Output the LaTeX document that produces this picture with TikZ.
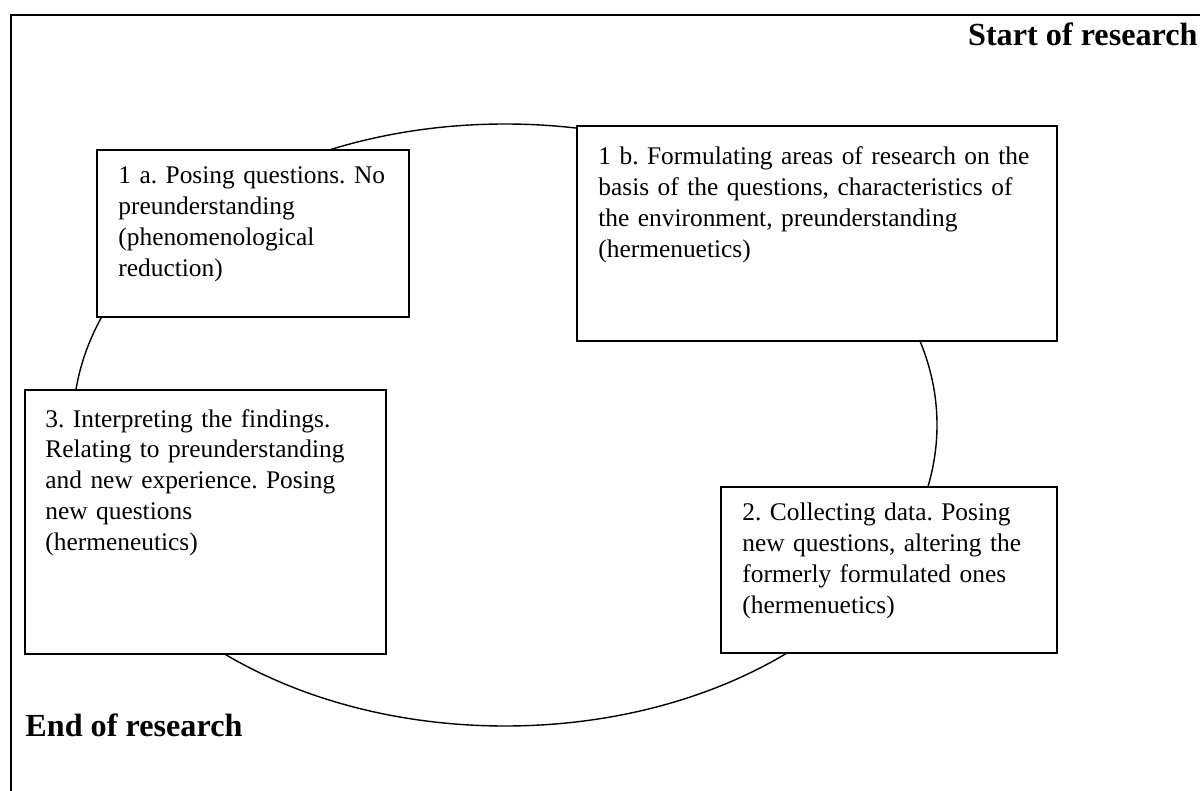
\documentclass[tikz,border=0pt]{standalone}
\usepackage{fontspec}
\setmainfont{Liberation Serif}
\usetikzlibrary{shapes.geometric}
\frenchspacing

\begin{document}
\begin{tikzpicture}[x = 0.5pt, y = -0.5pt,
  box/.style = {draw, line width = 0.8pt, fill = white, anchor = north west, inner sep = 0pt, outer sep = 0pt},
  boxtext/.style = {anchor = base west, inner sep = 0pt, text width = 230pt, align = left, font = \fontsize{12.7}{15.5}\selectfont},
  headline/.style = {inner sep = 0pt, font = \fontsize{16.1}{19}\selectfont\bfseries}]

\useasboundingbox (0,0) rectangle (1200,791);
\draw [line width = 0.8pt] (11,791) -- (11,15) -- (1200,15);

\node [draw, ellipse, line width = 0.7pt, inner sep = 0pt, minimum width = 432pt, minimum height = 301pt] (cycle) at (505,425) {};

\node [box, minimum width = 156pt, minimum height = 83.5pt] (b1a) at (97,150) {};
\node [box, minimum width = 240pt, minimum height = 107.5pt] (b1b) at (577,126) {};
\node [box, minimum width = 180.5pt, minimum height = 132pt] (b3) at (25,390) {};
\node [box, minimum width = 168pt, minimum height = 83pt] (b2) at (721,487) {};

\node [boxtext] (t1a) at (118,184) {1 a. Posing questions. No\\ preunderstanding\\ (phenomenological\\ reduction)};
\node [boxtext] (t1b) at (598,165) {1 b. Formulating areas of research on the\\ basis of the questions, characteristics of\\ the environment, preunderstanding\\ (hermenuetics)};
\node [boxtext] (t3) at (45,427) {3. Interpreting the findings.\\ Relating to preunderstanding\\ and new experience. Posing\\ new questions\\ (hermeneutics)};
\node [boxtext] (t2) at (742,520) {2. Collecting data. Posing\\ new questions, altering the\\ formerly formulated ones\\ (hermenuetics)};

\node [headline, anchor = base east] (start) at (1198,46) {Start of research};
\node [headline, anchor = base west] (end) at (25,736) {End of research};

\end{tikzpicture}
\end{document}
